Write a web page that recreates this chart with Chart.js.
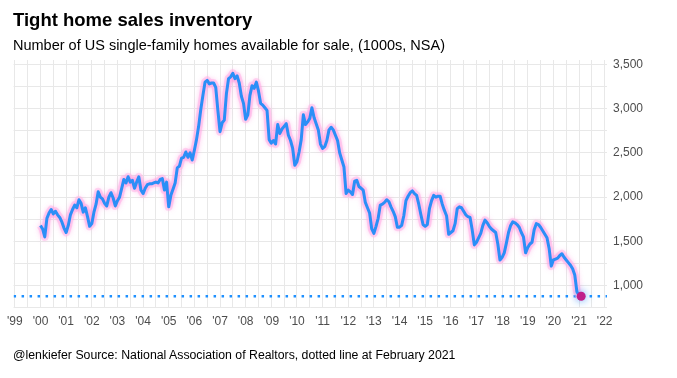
<!DOCTYPE html>
<html>
<head>
<meta charset="utf-8">
<script src="https://cdn.jsdelivr.net/npm/chart.js@4.4.1/dist/chart.umd.min.js"></script>
<style>
  html, body { margin: 0; padding: 0; background: #ffffff; }
  #wrap { position: relative; width: 677px; height: 378px; overflow: hidden; font-family: "Liberation Sans", Arial, sans-serif; }
  #chart { position: absolute; left: 0; top: 0; }
  .txt { position: absolute; white-space: nowrap; color: #000; }
  #title { left: 13px; top: 9px; font-size: 18.5px; font-weight: bold; }
  #subtitle { left: 13px; top: 37px; font-size: 14.5px; }
  #caption { left: 13px; top: 348px; font-size: 12.3px; }
</style>
</head>
<body>
<div id="wrap">
  <canvas id="chart" width="677" height="378"></canvas>
  <div class="txt" id="title">Tight home sales inventory</div>
  <div class="txt" id="subtitle">Number of US single-family homes available for sale, (1000s, NSA)</div>
  <div class="txt" id="caption">@lenkiefer Source: National Association of Realtors, dotted line at February 2021</div>
</div>
<script>
// ---- DATA ----
const startYear = 2000;          // first month: January 2000
const startMonth = 1;
// Monthly single-family inventory (1000s, NSA), Jan 2000 .. Feb 2021
const inventory = [
  // 2000
  1680, 1640, 1550, 1760, 1820, 1860, 1810, 1840, 1800, 1770, 1720, 1650,
  // 2001
  1600, 1680, 1800, 1860, 1910, 1880, 1970, 1930, 1830, 1880, 1780, 1670,
  // 2002
  1700, 1830, 1920, 2060, 2000, 1980, 1930, 1900, 2000, 2050, 1990, 1900,
  // 2003
  1960, 2000, 2100, 2200, 2160, 2230, 2170, 2190, 2100, 2170, 2230, 2080,
  // 2004
  2040, 2100, 2140, 2150, 2150, 2160, 2170, 2160, 2200, 2210, 2080, 2170,
  // 2005
  1890, 2020, 2090, 2160, 2330, 2350, 2440, 2450, 2510, 2450, 2500, 2420,
  // 2006
  2530, 2650, 2800, 2990, 3150, 3300, 3320, 3280, 3290, 3290, 3240, 2980,
  // 2007
  2740, 2840, 2870, 3170, 3340, 3360, 3400, 3340, 3370, 3290, 3140, 3060,
  // 2008
  2880, 2930, 3150, 3260, 3230, 3300, 3200, 3060, 3040, 3010, 2980, 2650,
  // 2009
  2610, 2640, 2600, 2820, 2720, 2770, 2800, 2830, 2700, 2640, 2550, 2360,
  // 2010
  2400, 2510, 2650, 2930, 2820, 2850, 2890, 3010, 2900, 2830, 2760, 2600,
  // 2011
  2550, 2570, 2640, 2760, 2790, 2760, 2700, 2640, 2500, 2420, 2340, 2040,
  // 2012
  2080, 2060, 2030, 2180, 2190, 2120, 2100, 2080, 1940, 1880, 1820, 1640,
  // 2013
  1590, 1670, 1760, 1910, 1920, 1940, 1970, 1950, 1890, 1840, 1780, 1660,
  // 2014
  1660, 1680, 1790, 1960, 2010, 2050, 2070, 2040, 2020, 1920, 1800, 1690,
  // 2015
  1670, 1690, 1870, 1960, 2020, 2000, 2010, 2010, 1920, 1850, 1790, 1580,
  // 2016
  1600, 1620, 1700, 1870, 1890, 1880, 1840, 1800, 1780, 1770, 1630, 1460,
  // 2017
  1490, 1540, 1590, 1680, 1740, 1710, 1670, 1640, 1620, 1600, 1470, 1290,
  // 2018
  1320, 1370, 1480, 1600, 1680, 1720, 1710, 1690, 1660, 1600, 1550, 1370,
  // 2019
  1430, 1470, 1490, 1630, 1700, 1690, 1660, 1620, 1580, 1540, 1420, 1220,
  // 2020
  1290, 1300, 1310, 1340, 1360, 1320, 1290, 1260, 1230, 1190, 1120, 930,
  // 2021
  890, 880
];
const yearTickLabels = ["'99","'00","'01","'02","'03","'04","'05","'06","'07","'08","'09","'10",
                        "'11","'12","'13","'14","'15","'16","'17","'18","'19","'20","'21","'22"];
const firstTickYear = 1999;
const valueTicks = [1000, 1500, 2000, 2500, 3000, 3500];

// ---- BUILD ----
const series = inventory.map((v, i) => ({ x: startYear + (startMonth - 1 + i) / 12, y: v }));
const last = series[series.length - 1];
const xMin = 1998.95, xMax = 2022.09;
const yMin = 758, yMax = 3550;

const xTickValues = [];
yearTickLabels.forEach((l, i) => {
  xTickValues.push(firstTickYear + i);
  if (i < yearTickLabels.length - 1) xTickValues.push(firstTickYear + i + 0.5);
});
const xLabelMap = {};
yearTickLabels.forEach((l, i) => { xLabelMap[firstTickYear + i] = l; });

const yTickValues = [];
for (let i = 0; i < valueTicks.length; i++) {
  yTickValues.push(valueTicks[i]);
  if (i < valueTicks.length - 1) yTickValues.push((valueTicks[i] + valueTicks[i + 1]) / 2);
}
yTickValues.unshift(valueTicks[0] - (valueTicks[1] - valueTicks[0]) / 2);

const glowPlugin = {
  id: 'glow',
  beforeDatasetDraw(chart, args) {
    const ds = chart.data.datasets[args.index];
    if (ds.glow) {
      chart.ctx.save();
      chart.ctx.shadowColor = ds.glow;
      chart.ctx.shadowBlur = ds.glowBlur || 8;
      chart.ctx.shadowOffsetX = 0;
      chart.ctx.shadowOffsetY = 0;
      args.meta._glowSaved = true;
    }
  },
  afterDatasetDraw(chart, args) {
    if (args.meta._glowSaved) {
      chart.ctx.restore();
      args.meta._glowSaved = false;
    }
  }
};

const tickFont = { family: "'Liberation Sans', Arial, sans-serif", size: 12 };

new Chart(document.getElementById('chart'), {
  type: 'scatter',
  data: {
    datasets: [
      {
        // dotted reference line at last value
        data: [{ x: xMin, y: last.y }, { x: xMax, y: last.y }],
        showLine: true,
        borderColor: '#1e90ff',
        borderWidth: 2.5,
        borderDash: [2.5, 5.5],
        pointRadius: 0,
        order: 3
      },
      {
        // pink halo
        data: series,
        showLine: true,
        borderColor: 'rgba(255, 195, 235, 0.55)',
        borderWidth: 8,
        pointRadius: 0,
        tension: 0,
        borderJoinStyle: 'round',
        order: 2
      },
      {
        data: series,
        showLine: true,
        borderColor: '#2b8ff7',
        borderWidth: 3,
        pointRadius: 0,
        tension: 0,
        borderJoinStyle: 'round',
        glow: 'rgba(255, 90, 205, 0.75)',
        glowBlur: 6,
        order: 1
      },
      {
        data: [last],
        pointRadius: 4.5,
        pointBackgroundColor: '#c0208a',
        pointBorderWidth: 0,
        glow: 'rgba(30, 144, 255, 0.8)',
        glowBlur: 8,
        order: 0
      }
    ]
  },
  options: {
    responsive: false,
    animation: false,
    devicePixelRatio: 1,
    layout: { padding: { left: 13, top: 60, right: 20, bottom: 49 } },
    plugins: { legend: { display: false }, tooltip: { enabled: false }, title: { display: false } },
    scales: {
      x: {
        type: 'linear',
        min: xMin,
        max: xMax,
        grid: { color: '#e8e8e8', lineWidth: 1, drawTicks: false },
        border: { display: false },
        afterBuildTicks: (axis) => { axis.ticks = xTickValues.map(v => ({ value: v })); },
        afterFit: (axis) => { axis.height = 22; },
        ticks: {
          autoSkip: false,
          maxRotation: 0,
          padding: 7,
          color: '#4d4d4d',
          font: tickFont,
          callback: (v) => xLabelMap[v] || ''
        }
      },
      y: {
        position: 'right',
        min: yMin,
        max: yMax,
        grid: { color: '#e8e8e8', lineWidth: 1, drawTicks: false },
        border: { display: false },
        afterBuildTicks: (axis) => { axis.ticks = yTickValues.map(v => ({ value: v })); },
        afterFit: (axis) => { axis.width = 50; },
        ticks: {
          padding: 6,
          color: '#4d4d4d',
          font: tickFont,
          callback: (v) => valueTicks.includes(v) ? v.toLocaleString('en-US') : ''
        }
      }
    }
  },
  plugins: [glowPlugin]
});
</script>
</body>
</html>
